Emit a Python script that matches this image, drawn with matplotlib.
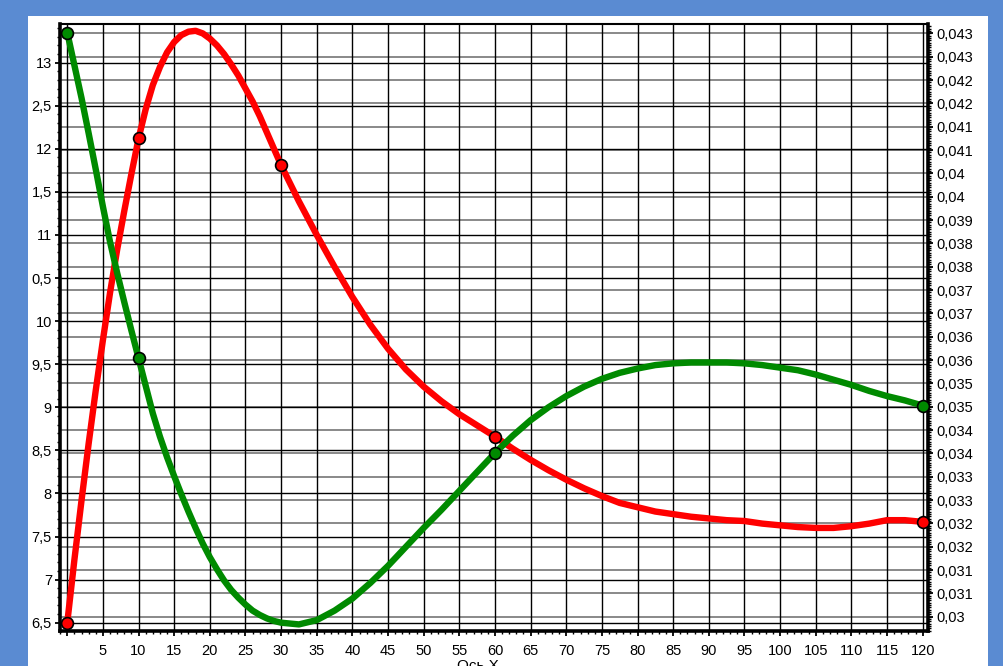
import matplotlib
matplotlib.use('Agg')
import matplotlib.pyplot as plt
from matplotlib.ticker import MultipleLocator
from matplotlib.patches import Rectangle

plt.rcParams['font.family'] = ['Liberation Sans', 'DejaVu Sans']

# ---- data ----
red_x = [0, 1, 2, 3, 4, 5, 6, 7, 8, 9, 10, 11, 12, 13, 14, 15, 16, 17, 18, 19, 20,
         21, 22, 23, 24, 25, 26, 27, 28, 29, 30, 32.5, 35, 37.5, 40, 42.5, 45, 47.5,
         50, 52.5, 55, 57.5, 60, 62.5, 65, 67.5, 70, 72.5, 75, 77.5, 80, 82.5, 85,
         87.5, 90, 92.5, 95, 97.5, 100, 102.5, 105, 107.5, 110, 112.5, 115, 117.5, 120]
red_y = [6.50, 7.23, 7.92, 8.58, 9.20, 9.78, 10.33, 10.83, 11.28, 11.71, 12.12,
         12.46, 12.74, 12.95, 13.12, 13.24, 13.32, 13.36, 13.37, 13.34, 13.28,
         13.20, 13.10, 12.98, 12.85, 12.70, 12.55, 12.38, 12.19, 12.00, 11.81,
         11.39, 11.00, 10.63, 10.28, 9.96, 9.68, 9.44, 9.24, 9.07, 8.92, 8.79,
         8.66, 8.52, 8.39, 8.27, 8.16, 8.06, 7.97, 7.89, 7.84, 7.79, 7.76, 7.73,
         7.71, 7.69, 7.68, 7.65, 7.63, 7.61, 7.60, 7.60, 7.62, 7.65, 7.69, 7.69, 7.67]

green_x = [0, 1, 2, 3, 4, 5, 6, 7, 8, 9, 10, 11, 12, 13, 14, 15, 16, 17, 18, 19, 20,
           21, 22, 23, 24, 25, 26, 27, 28, 29, 30, 32.5, 35, 37.5, 40, 42.5, 45, 47.5,
           50, 52.5, 55, 57.5, 60, 62.5, 65, 67.5, 70, 72.5, 75, 77.5, 80, 82.5, 85,
           87.5, 90, 92.5, 95, 97.5, 100, 102.5, 105, 107.5, 110, 112.5, 115, 117.5, 120]
green_y = [13.35, 12.97, 12.59, 12.18, 11.76, 11.33, 10.92, 10.56, 10.22, 9.89, 9.57,
           9.25, 8.93, 8.66, 8.42, 8.20, 7.99, 7.79, 7.60, 7.42, 7.26, 7.12, 6.99,
           6.88, 6.79, 6.71, 6.64, 6.59, 6.55, 6.52, 6.50, 6.48, 6.53, 6.64, 6.78,
           6.96, 7.16, 7.38, 7.60, 7.81, 8.03, 8.25, 8.47, 8.67, 8.85, 9.00, 9.13,
           9.24, 9.33, 9.40, 9.45, 9.49, 9.51, 9.52, 9.52, 9.52, 9.51, 9.49, 9.46,
           9.43, 9.38, 9.32, 9.26, 9.19, 9.13, 9.08, 9.02]

red_pts_x = [0, 10, 30, 60, 120]
red_pts_y = [6.50, 12.12, 11.81, 8.66, 7.67]
green_pts_x = [0, 10, 60, 120]
green_pts_y = [13.35, 9.57, 8.47, 9.02]

x_ticks = list(range(0, 121, 5))
x_tick_labels = [''] + [str(v) for v in range(5, 121, 5)]
left_ticks = [6.5, 7, 7.5, 8, 8.5, 9, 9.5, 10, 10.5, 11, 11.5, 12, 12.5, 13]
left_labels = ['6,5', '7', '7,5', '8', '8,5', '9', '9,5', '10', '0,5', '11', '1,5',
               '12', '2,5', '13']
right_ticks = [0.03, 0.03052, 0.03104, 0.03156, 0.03208, 0.0326, 0.03312, 0.03364,
               0.03416, 0.03468, 0.0352, 0.03572, 0.03624, 0.03676, 0.03728, 0.0378,
               0.03832, 0.03884, 0.03936, 0.03988, 0.0404, 0.04092, 0.04144, 0.04196,
               0.04248, 0.043]
right_labels = ['0,03', '0,031', '0,031', '0,032', '0,032', '0,033', '0,033', '0,034',
                '0,034', '0,035', '0,035', '0,036', '0,036', '0,037', '0,037', '0,038',
                '0,038', '0,039', '0,04', '0,04', '0,041', '0,041', '0,042', '0,042',
                '0,043', '0,043']

# ---- figure ----
W, H = 1004, 666
fig = plt.figure(figsize=(W / 100, H / 100), dpi=100, facecolor='#5a8bd2')
fig.patches.append(Rectangle((28 / W, 0), 960 / W, 650 / H, transform=fig.transFigure,
                             facecolor='white', edgecolor='none', zorder=-5))

ax = fig.add_axes([60 / W, 1 - 630.7 / H, 868.3 / W, 606.7 / H])
ax2 = ax.twinx()
ax.set_zorder(ax2.get_zorder() + 1)
ax.patch.set_visible(False)
ax2.patch.set_visible(False)

ax.set_xlim(-1.02, 120.79)
ax.set_ylim(6.407, 13.449)
ax2.set_ylim(0.029688, 0.0432095)

# ticks and grids
ax.set_xticks(x_ticks)
ax.set_xticklabels(x_tick_labels)
ax.xaxis.set_minor_locator(MultipleLocator(1))
ax.set_yticks(left_ticks)
ax.set_yticklabels(left_labels)
ax.yaxis.set_minor_locator(MultipleLocator(0.1))
ax.grid(True, which='major', color='black', linewidth=1.0)
ax.set_axisbelow(True)

ax2.set_yticks(right_ticks)
ax2.set_yticklabels(right_labels)
ax2.yaxis.set_minor_locator(MultipleLocator(0.000052))
ax2.grid(True, which='major', axis='y', color='#808080', linewidth=1.3)

# spines
for s in ['left', 'bottom', 'right', 'top']:
    ax.spines[s].set_color('black')
    ax2.spines[s].set_visible(False)
ax.spines['left'].set_linewidth(2.6)
ax.spines['bottom'].set_linewidth(2.6)
ax.spines['right'].set_linewidth(2.6)
ax.spines['top'].set_linewidth(1.5)

ax.tick_params(axis='both', which='major', length=3.8, width=1.3, labelsize=10.5,
               colors='black', direction='out')
ax.tick_params(axis='both', which='minor', length=2.3, width=1.0, direction='out')
ax.tick_params(axis='x', pad=6)
ax.tick_params(axis='y', pad=2)
ax.tick_params(axis='y', which='both', right=False)
ax2.tick_params(axis='y', which='major', length=3.8, width=1.3, labelsize=10.5, pad=1.8,
                direction='out', colors='black')
ax2.tick_params(axis='y', which='minor', length=2.3, width=1.0, direction='out')

# curves
ax.plot(red_x, red_y, color='#ff0000', linewidth=4.6, solid_joinstyle='round', zorder=3)
ax.plot(green_x, green_y, color='#008a00', linewidth=4.6, solid_joinstyle='round', zorder=3)
ax.plot(red_pts_x, red_pts_y, 'o', ms=8.5, mfc='#ff0000', mec='black', mew=1.2,
        zorder=5, clip_on=False)
ax.plot(green_pts_x, green_pts_y, 'o', ms=8.5, mfc='#008a00', mec='black', mew=1.2,
        zorder=5, clip_on=False)

fig.text(478 / W, 1 - 659 / H, 'Ось X', ha='center', va='top', fontsize=11)

fig.savefig('out.png', dpi=100, facecolor=fig.get_facecolor())
